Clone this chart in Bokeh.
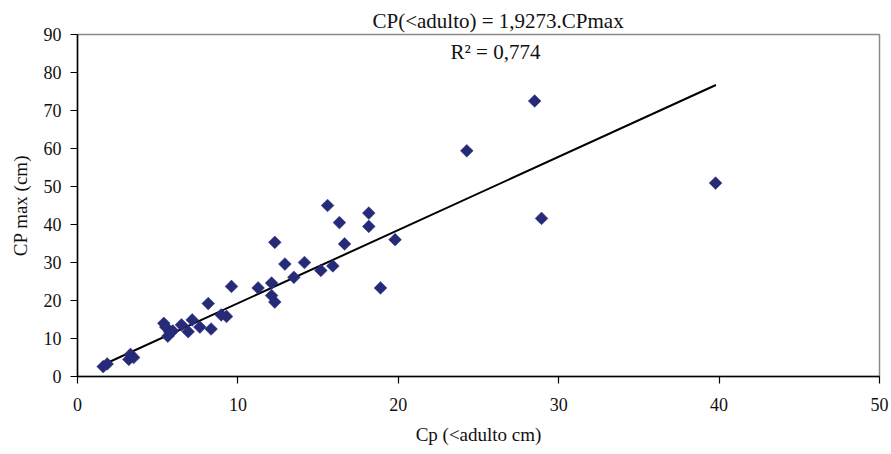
from bokeh.plotting import figure
from bokeh.models import Label, FixedTicker, Range1d
from bokeh.embed import file_html
from bokeh.resources import INLINE
import numpy as np

# data
cp_adulto = [1.6, 1.85, 3.2, 3.3, 3.5, 5.38, 5.5, 5.76, 5.63, 5.94, 6.48, 6.9, 7.15,
             7.63, 8.15, 8.33, 8.96, 9.29, 9.6, 11.26, 12.1, 12.1, 12.3, 12.3, 12.93,
             13.49, 14.15, 15.17, 15.59, 15.92, 16.33, 16.65, 18.16, 18.16, 18.89,
             19.8, 24.27, 28.5, 28.93, 39.78]
cp_max = [2.6, 3.3, 4.5, 5.8, 5.0, 14.0, 13.0, 11.7, 10.6, 12.0, 13.6, 11.8, 14.9,
          13.0, 19.2, 12.5, 16.2, 15.8, 23.7, 23.3, 24.6, 21.3, 19.6, 35.3, 29.6,
          26.1, 30.0, 27.9, 45.0, 29.1, 40.5, 34.9, 43.0, 39.5, 23.3, 36.0, 59.4,
          72.5, 41.6, 50.9]
slope = 1.9273
trend_x = [1.6, 39.8]
trend_y = [slope * v for v in trend_x]
x_ticks = [0, 10, 20, 30, 40, 50]
y_ticks = [0, 10, 20, 30, 40, 50, 60, 70, 80, 90]
eq_text = "CP(<adulto) = 1,9273.CPmax"
r2_text = "R\u00b2 = 0,774"

FONT = "Liberation Serif"

p = figure(frame_width=802, frame_height=342, width=891, height=454,
           min_border_left=77, min_border_right=12, min_border_top=34,
           min_border_bottom=78, output_backend="svg", toolbar_location=None,
           x_range=Range1d(0, 50), y_range=Range1d(0, 90))

p.title.text = eq_text
p.title.align = "left"
p.title.offset = 295
p.title.text_font = FONT
p.title.text_font_size = "21px"
p.title.text_font_style = "normal"
p.title.text_color = "#111111"
p.title.standoff = 4

p.xgrid.visible = False
p.ygrid.visible = False
p.outline_line_color = "#8a8a8a"
p.outline_line_width = 1.5
p.background_fill_color = "white"
p.border_fill_color = "white"

for ax in (p.xaxis[0], p.yaxis[0]):
    ax.axis_line_color = "black"
    ax.axis_line_width = 1.5
    ax.major_tick_line_color = "black"
    ax.major_tick_line_width = 1.2
    ax.major_tick_in = 0
    ax.major_tick_out = 7
    ax.minor_tick_line_color = None
    ax.major_label_text_font = FONT
    ax.major_label_text_font_size = "18px"
    ax.major_label_text_color = "#111111"
    ax.axis_label_text_font = FONT
    ax.axis_label_text_font_size = "19px"
    ax.axis_label_text_font_style = "normal"
    ax.axis_label_text_color = "#111111"

p.xaxis[0].ticker = FixedTicker(ticks=x_ticks)
p.yaxis[0].ticker = FixedTicker(ticks=y_ticks)
p.xaxis[0].axis_label = "Cp (<adulto cm)"
p.yaxis[0].axis_label = "CP max (cm)"
p.xaxis[0].major_label_standoff = 14
p.xaxis[0].axis_label_standoff = 10
p.yaxis[0].major_label_standoff = 9
p.yaxis[0].axis_label_standoff = 10

p.line(trend_x, trend_y, line_color="black", line_width=2)
p.scatter(cp_adulto, cp_max, marker="square", angle=np.pi / 4, size=9,
          fill_color="#262a78", line_color="#262a78", line_width=0.5)

p.add_layout(Label(x=26.06, y=85.3, text=r2_text, text_font=FONT,
                   text_font_size="21px", text_align="center",
                   text_baseline="middle", text_color="#111111"))

open("out.html", "w").write(file_html(p, INLINE))
